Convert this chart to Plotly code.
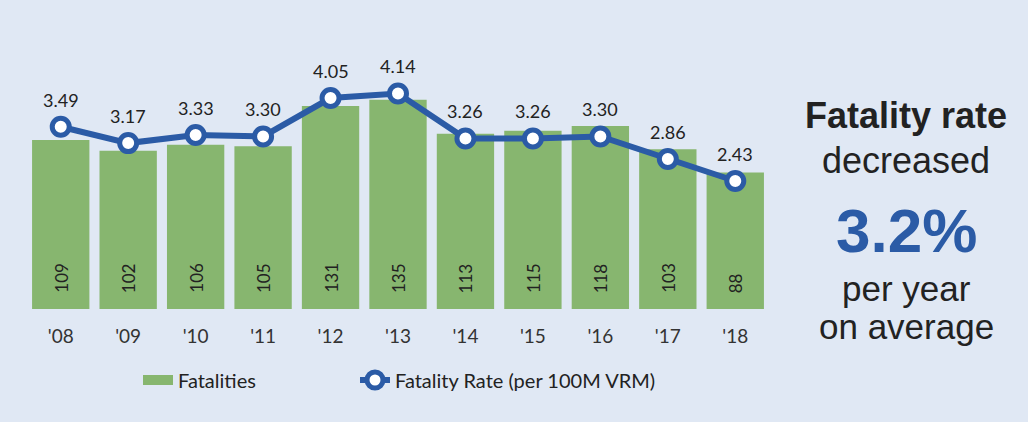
import plotly.graph_objects as go

years = ["'08", "'09", "'10", "'11", "'12", "'13", "'14", "'15", "'16", "'17", "'18"]
fatalities = [109, 102, 106, 105, 131, 135, 113, 115, 118, 103, 88]
fatality_rate = [3.49, 3.17, 3.33, 3.30, 4.05, 4.14, 3.26, 3.26, 3.30, 2.86, 2.43]

BG = "#E0E8F4"
GREEN = "#87B66F"
BLUE = "#2B5BA6"
TXT = "#222222"
FONT = "Lato, Open Sans, sans-serif"

W, H = 1028, 422
ML, MR, MT, MB = 27, 259, 60, 113
PW = W - ML - MR
PH = H - MT - MB

def px_x(x):
    return (x - ML) / PW

def px_y(y):
    return (H - MB - y) / PH

fig = go.Figure()
fig.add_trace(go.Bar(
    x=years, y=fatalities, name="Fatalities",
    marker=dict(color=GREEN, line=dict(width=0)),
    yaxis="y", hoverinfo="skip", showlegend=False, legendgroup="fat",
))
# legend entry for the bars (wide swatch like the original)
fig.add_trace(go.Scatter(
    x=[None], y=[None], name="Fatalities", mode="lines",
    line=dict(color=GREEN, width=10), legendgroup="fat", hoverinfo="skip",
    legend="legend",
))
fig.add_trace(go.Scatter(
    x=years, y=fatality_rate, name="Fatality Rate (per 100M VRM)",
    mode="lines+markers",
    line=dict(color=BLUE, width=6),
    marker=dict(size=17, color="white", line=dict(color=BLUE, width=5)),
    yaxis="y2", hoverinfo="skip", legend="legend2",
))

annotations = []
for yr, v in zip(years, fatality_rate):
    annotations.append(dict(
        x=yr, y=v, xref="x", yref="y2", text=f"{v:.2f}", showarrow=False,
        yanchor="middle", xanchor="center", yshift=27,
        font=dict(family=FONT, size=18, color=TXT),
    ))
for yr, v in zip(years, fatalities):
    annotations.append(dict(
        x=yr, y=0, xref="x", yref="y", text=str(v), showarrow=False,
        textangle=-90, yanchor="bottom", xanchor="center", yshift=14,
        font=dict(family=FONT, size=17, color=TXT),
    ))

side = [
    ("<b>Fatality rate</b>", 36, TXT, 115),
    ("decreased", 36, TXT, 160),
    ("<b>3.2%</b>", 62, BLUE, 230),
    ("per year", 35, TXT, 288),
    ("on average", 35, TXT, 326),
]
for txt, sz, col, ypx in side:
    annotations.append(dict(
        x=px_x(906), y=px_y(ypx), xref="paper", yref="paper", text=txt,
        showarrow=False, xanchor="center", yanchor="middle",
        font=dict(family="Liberation Sans, Arial, sans-serif", size=sz, color=col),
    ))

legend_common = dict(
    orientation="h", xanchor="left", yanchor="middle", y=px_y(380),
    font=dict(family=FONT, size=20, color=TXT),
    bgcolor="rgba(0,0,0,0)",
)

fig.update_layout(
    width=W, height=H,
    margin=dict(l=ML, r=MR, t=MT, b=MB, autoexpand=False),
    paper_bgcolor=BG, plot_bgcolor=BG,
    bargap=0.15,
    showlegend=True,
    legend=dict(x=px_x(138), **legend_common),
    legend2=dict(x=px_x(355), **legend_common),
    xaxis=dict(
        range=[-0.5, 10.5], showgrid=False, zeroline=False, showline=False,
        tickfont=dict(family=FONT, size=19, color="#333333"),
        ticks="", ticklabelstandoff=14,
    ),
    yaxis=dict(range=[0, 160.6], visible=False, showgrid=False, zeroline=False),
    yaxis2=dict(range=[-0.07, 4.793], overlaying="y", side="right", visible=False,
                showgrid=False, zeroline=False),
    annotations=annotations,
)

fig.write_html(
    "out.html",
    config={"displayModeBar": False},
    post_script=(
        "document.body.style.margin='0';"
        "document.body.style.overflow='hidden';"
        "document.body.style.background='" + BG + "';"
    ),
)
